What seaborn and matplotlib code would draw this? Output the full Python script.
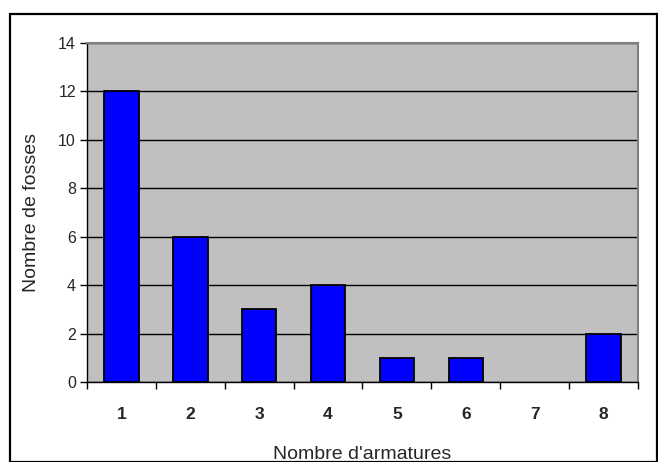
import pandas as pd
import numpy as np
import seaborn as sns
import matplotlib.pyplot as plt
from matplotlib.patches import Rectangle

# Data
armatures = ['1', '2', '3', '4', '5', '6', '7', '8']
fosses = [12, 6, 3, 4, 1, 1, 0, 2]
yticks = [0, 2, 4, 6, 8, 10, 12, 14]

df = pd.DataFrame({'armatures': armatures, 'fosses': fosses})

# Plot
sns.set_style("white")
plt.rcParams['font.family'] = ['Liberation Sans', 'DejaVu Sans']

fig = plt.figure(figsize=(6.58, 4.62), dpi=100)
ax = fig.add_axes([0.1322, 0.1732, 0.8374, 0.7338])
ax.set_facecolor('#C0C0C0')

sns.barplot(x='armatures', y='fosses', data=df, color='#0000FF', saturation=1,
            width=0.5, edgecolor='black', linewidth=1.3, ax=ax, zorder=3)

# empty category shows no outline
for p in ax.patches:
    if p.get_height() == 0:
        p.set_edgecolor('none')

ax.set_xlim(-0.5, 7.5)
ax.set_ylim(0, 14)
ax.set_yticks(yticks)
ax.set_yticklabels([str(t) for t in yticks], fontsize=11.5)
ax.yaxis.grid(True, color='black', linewidth=1)
ax.set_axisbelow(True)

# x ticks between categories, labels centred under bars
ax.set_xticks(np.arange(-0.5, 8, 1))
ax.set_xticklabels([])
ax.set_xticks(np.arange(8), minor=True)
ax.set_xticklabels(armatures, minor=True, fontsize=12.5, fontweight='bold')
ax.tick_params(axis='x', which='major', direction='out', length=5, width=1, color='black', bottom=True)
ax.tick_params(axis='x', which='minor', length=0, pad=18)
ax.tick_params(axis='y', direction='out', length=5, width=1, color='black', left=True, pad=3)

for side in ['top', 'right']:
    ax.spines[side].set_color('#808080')
    ax.spines[side].set_linewidth(1.5)
for side in ['left', 'bottom']:
    ax.spines[side].set_color('black')
    ax.spines[side].set_linewidth(1)

ax.set_xlabel("Nombre d'armatures", fontsize=14, labelpad=17)
ax.set_ylabel('Nombre de fosses', fontsize=14, labelpad=13)

# outer chart border
fig.patches.append(Rectangle((10 / 658, 0.001), 647 / 658, 1 - 14 / 462,
                             transform=fig.transFigure, fill=False,
                             edgecolor='black', linewidth=1.6))

fig.savefig('out.png', dpi=100)
